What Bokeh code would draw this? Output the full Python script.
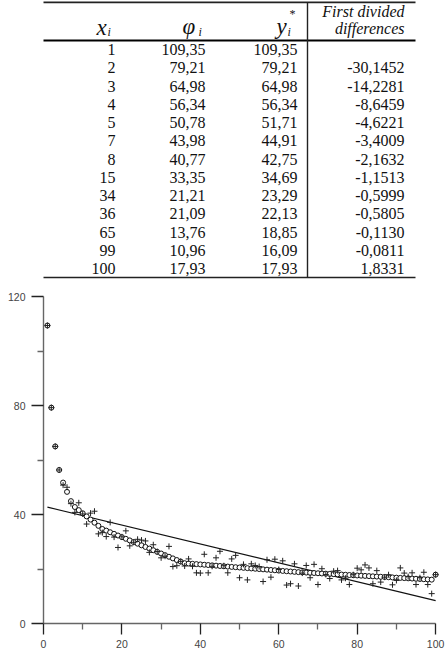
from bokeh.plotting import figure
from bokeh.models import Range1d, FixedTicker
from bokeh.layouts import column
from bokeh.embed import file_html
from bokeh.resources import INLINE
from bokeh.core.properties import value

# ---- table data ----
x_tab = [1, 2, 3, 4, 5, 7, 8, 15, 34, 36, 65, 99, 100]
phi_tab = [109.35, 79.21, 64.98, 56.34, 50.78, 43.98, 40.77, 33.35, 21.21, 21.09, 13.76, 10.96, 17.93]
ystar_tab = [109.35, 79.21, 64.98, 56.34, 51.71, 44.91, 42.75, 34.69, 23.29, 22.13, 18.85, 16.09, 17.93]
diff_tab = [None, -30.1452, -14.2281, -8.6459, -4.6221, -3.4009, -2.1632, -1.1513,
            -0.5999, -0.5805, -0.1130, -0.0811, 1.8331]

# ---- chart data ----
x_all = list(range(1, 101))
phi = [109.35, 79.21, 64.98, 56.34, 50.78, 50.0, 43.98, 40.77, 44.3, 40.2,
       36.5, 40.5, 41.2, 32.9, 33.35, 31.9, 37.1, 31.7, 27.9, 31.8,
       34.0, 28.5, 29.8, 30.9, 30.6, 30.3, 26.1, 28.9, 26.4, 24.1,
       24.7, 28.3, 20.9, 21.21, 22.8, 21.09, 23.7, 21.0, 18.6, 18.5,
       25.4, 18.6, 21.0, 24.1, 26.5, 21.2, 18.6, 23.7, 25.0, 16.8,
       21.7, 16.0, 21.9, 21.3, 20.9, 15.4, 23.4, 17.0, 23.6, 19.8,
       23.0, 14.1, 14.6, 21.9, 13.76, 18.5, 21.3, 16.8, 21.7, 14.3,
       20.1, 18.0, 16.5, 19.2, 19.4, 16.0, 16.6, 14.3, 17.9, 20.3,
       19.7, 21.5, 20.4, 14.6, 19.4, 15.2, 17.0, 17.9, 14.2, 15.8,
       20.4, 18.5, 17.2, 18.6, 14.3, 16.8, 18.8, 14.3, 10.96, 17.93]
ystar = [109.35, 79.21, 64.98, 56.34, 51.71, 48.31, 44.91, 42.75, 41.60, 40.45,
         39.30, 38.14, 36.99, 35.84, 34.69, 34.09, 33.49, 32.89, 32.29, 31.69,
         31.09, 30.49, 29.89, 29.29, 28.69, 28.09, 27.49, 26.89, 26.29, 25.69,
         25.09, 24.49, 23.89, 23.29, 22.71, 22.13, 22.02, 21.90, 21.79, 21.68,
         21.56, 21.45, 21.34, 21.23, 21.11, 21.00, 20.89, 20.77, 20.66, 20.55,
         20.43, 20.32, 20.21, 20.10, 19.98, 19.87, 19.76, 19.64, 19.53, 19.42,
         19.30, 19.19, 19.08, 18.96, 18.85, 18.77, 18.69, 18.61, 18.53, 18.44,
         18.36, 18.28, 18.20, 18.12, 18.04, 17.96, 17.88, 17.79, 17.71, 17.63,
         17.55, 17.47, 17.39, 17.31, 17.23, 17.15, 17.07, 16.98, 16.90, 16.82,
         16.74, 16.66, 16.58, 16.50, 16.42, 16.34, 16.25, 16.17, 16.09, 17.93]
line_x = [1, 100]
line_y = [42.7, 8.4]

x_ticks = [0, 20, 40, 60, 80, 100]
x_minor = [10, 30, 50, 70, 90]
y_ticks = [0, 40, 80, 120]
y_minor = [20, 60, 100]

SERIF = value("Liberation Serif")
BL, BR = 43, 5  # shared left/right borders so both frames line up

# ---------------- table ----------------
# the table's x range is chosen so that one unit = one page pixel
t = figure(width=446, height=283, x_range=Range1d(BL, 446 - BR), y_range=Range1d(283, 0),
           output_backend="svg", toolbar_location=None,
           min_border_left=BL, min_border_right=BR, min_border_top=0, min_border_bottom=0,
           x_axis_location=None, y_axis_location=None)
t.grid.visible = False
t.outline_line_color = None

n = len(x_tab)
row_y = [49 + 18.25 * i for i in range(n)]


def fmt(v, d):
    return ("{:." + str(d) + "f}").format(v).replace(".", ",")


cols = [
    (115, [str(v) for v in x_tab]),
    (205, [fmt(v, 2) for v in phi_tab]),
    (297, [fmt(v, 2) for v in ystar_tab]),
    (404, ["" if v is None else fmt(v, 4) for v in diff_tab]),
]
for cx, labels in cols:
    t.text(x=[cx] * n, y=row_y, text=labels, text_align="right", text_baseline="middle",
           text_font=SERIF, text_font_size="16px", text_color="#111111")

# header symbols
t.text(x=[96, 182, 276], y=[27, 26, 26], text=["x", "φ", "y"], text_align="left",
       text_baseline="middle", text_font=SERIF, text_font_size="23px",
       text_font_style="italic", text_color="#111111")
t.text(x=[107, 198, 287], y=[31, 31, 31], text=["i", "i", "i"], text_align="left",
       text_baseline="middle", text_font=SERIF, text_font_size="12px",
       text_font_style="italic", text_color="#111111")
t.text(x=[289], y=[13], text=["*"], text_align="left", text_baseline="middle",
       text_font=SERIF, text_font_size="12px", text_color="#111111")
t.text(x=[404, 404], y=[11, 28], text=["First divided", "differences"], text_align="right",
       text_baseline="middle", text_font=SERIF, text_font_size="16px",
       text_font_style="italic", text_color="#111111")

# rules, drawn after the texts
t.line([35, 415], [1.8, 1.8], line_color="#222222", line_width=1.7)
t.line([35, 415], [40, 40], line_color="#000000", line_width=2.0)
t.line([35, 415], [277, 277], line_color="#222222", line_width=1.7)
t.line([307, 307], [1.8, 277], line_color="#222222", line_width=1.4)

# ---------------- chart ----------------
c = figure(width=446, height=377, x_range=Range1d(0, 101.5), y_range=Range1d(0, 120),
           output_backend="svg", toolbar_location=None,
           min_border_left=BL, min_border_right=BR, min_border_top=13, min_border_bottom=37)
c.grid.visible = False
c.outline_line_color = None

c.line(line_x, line_y, line_color="#111111", line_width=1.1)
c.scatter(x_all, ystar, marker="circle", size=5, line_color="#111111", line_width=1.0,
          fill_color="white")
c.scatter(x_all, phi, marker="cross", size=6, line_color="#222222", line_width=1.0)

for ax, ticks, minor in [(c.xaxis[0], x_ticks, x_minor), (c.yaxis[0], y_ticks, y_minor)]:
    ax.ticker = FixedTicker(ticks=ticks, minor_ticks=minor)
    ax.axis_line_color = "#666666"
    ax.axis_line_width = 1.4
    ax.major_tick_line_color = "#222222"
    ax.major_tick_line_width = 1.3
    ax.minor_tick_line_color = "#666666"
    ax.minor_tick_line_width = 1.3
    ax.major_tick_in = 0
    ax.minor_tick_in = 0
    ax.minor_tick_out = 6
    ax.major_label_text_font = "Liberation Sans"
    ax.major_label_text_font_size = "10.5px"
    ax.major_label_text_color = "#444444"

c.xaxis[0].bounds = (0, 100)
c.xaxis[0].major_tick_out = 11
c.xaxis[0].major_label_standoff = 5
c.yaxis[0].major_tick_out = 12
c.yaxis[0].major_label_standoff = 6

layout = column(t, c, spacing=0)
open("out.html", "w").write(file_html(layout, INLINE))
